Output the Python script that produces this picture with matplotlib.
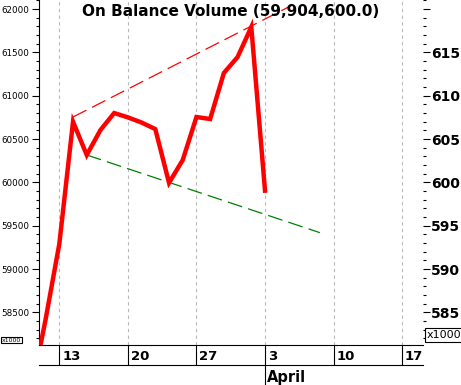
import numpy as np
import matplotlib
matplotlib.use("Agg")
import matplotlib.pyplot as plt
import matplotlib.transforms as mtransforms
from matplotlib.ticker import MultipleLocator, FixedLocator

# on balance volume, in thousands
dates = ["2017-03-09", "2017-03-10", "2017-03-13", "2017-03-14", "2017-03-15",
         "2017-03-16", "2017-03-17", "2017-03-20", "2017-03-21", "2017-03-22",
         "2017-03-23", "2017-03-24", "2017-03-27", "2017-03-28", "2017-03-29",
         "2017-03-30", "2017-03-31", "2017-04-03"]
obv = [57620, 58420, 59290, 60700, 60316, 60604, 60800, 60750, 60690, 60615,
       59995, 60258, 60754, 60731, 61262, 61446, 61792, 59904.6]

# trend lines
upper_dates = ["2017-03-14", "2017-04-05"]
upper_vals = [60754, 62046]
lower_dates = ["2017-03-15", "2017-04-07"]
lower_vals = [60316, 59420]

tick_dates = ["2017-03-13", "2017-03-20", "2017-03-27", "2017-04-03",
              "2017-04-10", "2017-04-17"]
tick_labels = ["13", "20", "27", "3", "10", "17"]
month_date = "2017-04-03"
month_label = "April"
title = "On Balance Volume (59,904,600.0)"

ORIGIN = "2017-03-13"


def tday(d):
    # trading-day index (weekends skipped)
    return np.busday_count(ORIGIN, d) if d >= ORIGIN else -np.busday_count(d, ORIGIN)


x = [tday(d) for d in dates]
xu = [tday(d) for d in upper_dates]
xl = [tday(d) for d in lower_dates]
xt = [tday(d) for d in tick_dates]

fig = plt.figure(figsize=(4.61, 3.85), dpi=100)
ax = fig.add_axes([39.3 / 461, 40 / 385, 383.4 / 461, 345 / 385])

ax.plot(x, obv, color="#ff0000", lw=3.2, solid_joinstyle="miter", zorder=3)
ax.plot(xu, upper_vals, color="#ff0000", lw=0.9, dashes=(12, 5), zorder=2)
ax.plot(xl, lower_vals, color="#008000", lw=0.9, dashes=(12, 5), zorder=2)

ax.set_xlim(-1.46, 26.5)
ax.set_ylim(58124, 62104)

for s in ["top", "right"]:
    ax.spines[s].set_visible(False)

# left axis
ax.yaxis.set_major_locator(MultipleLocator(500))
ax.yaxis.set_minor_locator(MultipleLocator(100))
ax.tick_params(axis="y", which="major", length=5, width=0.8, labelsize=6.3, pad=2)
ax.tick_params(axis="y", which="minor", length=2.5, width=0.8)
ax.set_yticks(np.arange(58500, 62001, 500))
ax.set_yticklabels([str(v) for v in range(58500, 62001, 500)])

# x axis: separators as ticks, labels as text
ax.xaxis.set_major_locator(FixedLocator(xt))
ax.tick_params(axis="x", which="major", length=14.4, width=0.8, labelbottom=False)
ax.grid(axis="x", color="#b8b8b8", lw=0.8, dashes=(3, 3))
trans = mtransforms.blended_transform_factory(ax.transData, ax.transAxes)
for xi, lab in zip(xt, tick_labels):
    ax.text(xi + 0.2, -0.033, lab, transform=trans, fontsize=9.5,
            fontweight="bold", ha="left", va="center")
ax.plot([0, 1], [-20 / 345, -20 / 345], transform=ax.transAxes,
        color="black", lw=0.8, clip_on=False)
xm = tday(month_date)
ax.plot([xm, xm], [-20 / 345, -40 / 345], transform=trans,
        color="black", lw=0.8, clip_on=False)
ax.text(xm + 0.15, -0.107, month_label, transform=trans, fontsize=10.5,
        fontweight="bold", ha="left", va="baseline")

# right axis, x100000
ax2 = ax.twinx()
ax2.set_ylim(58124 / 100, 62104 / 100)
for s in ["top", "right", "left", "bottom"]:
    ax2.spines[s].set_visible(False)
ax2.yaxis.set_major_locator(MultipleLocator(5))
ax2.yaxis.set_minor_locator(MultipleLocator(1))
ax2.tick_params(axis="y", which="major", length=5, width=0.8, labelsize=10, pad=1)
ax2.tick_params(axis="y", which="minor", length=2.5, width=0.8)
ax2.set_yticks(np.arange(585, 621, 5))
ax2.set_yticklabels([str(v) if v <= 615 else "" for v in range(585, 621, 5)],
                    fontweight="bold")

ax.set_title(title, fontsize=11, fontweight="bold", y=0.955, pad=0)

# multiplier boxes
fig.text(2 / 461, 1 - 340 / 385, "x1000", fontsize=4.5, va="center", ha="left",
         bbox=dict(boxstyle="square,pad=0.15", fc="white", ec="black", lw=0.8))
fig.text(427 / 461, 1 - 335 / 385, "x1000", fontsize=8, va="center", ha="left",
         bbox=dict(boxstyle="square,pad=0.2", fc="white", ec="black", lw=0.8))

fig.savefig("out.png", dpi=100)
